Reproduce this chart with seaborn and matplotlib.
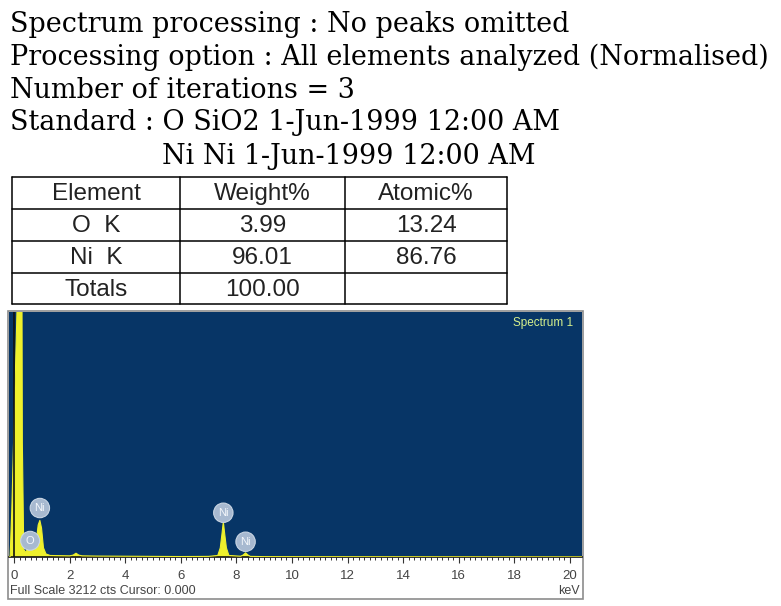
import matplotlib
matplotlib.use("Agg")
import matplotlib.pyplot as plt
import seaborn as sns
import numpy as np
from matplotlib.patches import Rectangle

# ---------------- data ----------------
header_lines = [
    "Spectrum processing : No peaks omitted",
    "Processing option : All elements analyzed (Normalised)",
    "Number of iterations = 3",
    "Standard : O SiO2 1-Jun-1999 12:00 AM",
    "Ni Ni 1-Jun-1999 12:00 AM",
]
table_columns = ["Element", "Weight%", "Atomic%"]
table_elements = ["O  K", "Ni  K", "Totals"]
weight_pct = ["3.99", "96.01", "100.00"]
atomic_pct = ["13.24", "86.76", ""]

energy_kev = [-0.20, -0.14, -0.08, 0.02, 0.12, 0.17, 0.25, 0.30, 0.35, 0.42,
              0.50, 0.57, 0.64, 0.72, 0.80, 0.87, 0.93, 0.99, 1.06, 1.15,
              1.30, 2.00, 2.13, 2.23, 2.33, 2.45, 3.00, 4.00, 5.00, 6.00,
              7.00, 7.33, 7.42, 7.48, 7.53, 7.58, 7.64, 7.73, 8.15, 8.24,
              8.33, 8.42, 8.50, 9.00, 12.0, 16.0, 20.5]
counts = [0, 0, 600, 2000, 3400, 9000, 9000, 1500, 100, 60,
          110, 150, 110, 80, 200, 420, 480, 380, 120, 40,
          20, 15, 25, 50, 25, 15, 12, 10, 8, 6,
          8, 20, 120, 300, 462, 300, 120, 20, 10, 25,
          55, 25, 8, 5, 4, 3, 2]

label_text = ["O", "Ni", "Ni", "Ni"]
label_kev = [0.58, 0.93, 7.53, 8.33]
label_cts = [213, 642, 580, 200]

full_scale = 3212
x_ticks = [0, 2, 4, 6, 8, 10, 12, 14, 16, 18, 20]

# ---------------- figure ----------------
W, H = 781, 606
sns.set_theme(style="white")
plt.rcParams["font.family"] = ["Liberation Sans", "DejaVu Sans"]
fig = plt.figure(figsize=(W / 100, H / 100), dpi=100)

def fx(px):
    return px / W

def fy(py):
    return 1 - py / H

# header text (serif), sized to the reference width
hdr_family = ["DejaVu Serif"]
renderer = fig.canvas.get_renderer()
probe = fig.text(0, 0, header_lines[1], fontsize=20, family=hdr_family)
wpx = probe.get_window_extent(renderer=renderer).width
probe.remove()
hdr_size = 20 * 758 / wpx
line_y = [24, 57, 90, 123, 156]
line_x = [10, 10, 10, 10, 162]
for txt, yy, xx in zip(header_lines, line_y, line_x):
    fig.text(fx(xx), fy(yy), txt, fontsize=hdr_size, family=hdr_family,
             va="center", ha="left", color="black")

# table
tx0, tx1 = 12, 507
col_edges = [12, 180, 345, 507]
row_edges = [177, 209, 241, 273, 304]
tab_ax = fig.add_axes([0, 0, 1, 1], facecolor="none")
tab_ax.set_xlim(0, W)
tab_ax.set_ylim(H, 0)
tab_ax.axis("off")
for xe in col_edges:
    tab_ax.plot([xe, xe], [row_edges[0], row_edges[-1]], color="black", lw=1.1)
for ye in row_edges:
    tab_ax.plot([tx0, tx1], [ye, ye], color="black", lw=1.1)
rows = [table_columns] + [[e, w, a] for e, w, a in zip(table_elements, weight_pct, atomic_pct)]
for r, row in enumerate(rows):
    yc = (row_edges[r] + row_edges[r + 1]) / 2 + 1
    for c, val in enumerate(row):
        xc = (col_edges[c] + col_edges[c + 1]) / 2
        tab_ax.text(xc, yc, val, fontsize=17.5, ha="center", va="center", color="#222222")

# spectrum panel frame
tab_ax.add_patch(Rectangle((8, 311), 575, 288, fill=False, ec="#8c8c8c", lw=1.2))

# spectrum axes
ax_l, ax_r, ax_t, ax_b = 9, 582, 312, 557
ax = fig.add_axes([fx(ax_l), fy(ax_b), fx(ax_r - ax_l), (ax_b - ax_t) / H])
ax.set_facecolor("#073566")
x0px, pxkev = 14, 27.8
ax.set_xlim((ax_l - x0px) / pxkev, (ax_r - x0px) / pxkev)
ax.set_ylim(0, full_scale)

yellow = "#EEF02C"
ax.fill_between(energy_kev, counts, 0, color=yellow, lw=0, zorder=2)
sns.lineplot(x=energy_kev, y=counts, ax=ax, color=yellow, lw=0.8, zorder=3,
             sort=False, estimator=None)
ax.axvline(0, color="#111111", lw=1.2, zorder=4)

for lt, lk, lc in zip(label_text, label_kev, label_cts):
    ax.annotate(lt, xy=(lk, lc), ha="center", va="center", fontsize=8,
                color="#F4F7FB", zorder=6,
                bbox=dict(boxstyle="circle,pad=0.4", fc="#A7B9D0", ec="#C9D5E3", lw=0.8))

ax.text(0.985, 0.955, "Spectrum 1", transform=ax.transAxes, ha="right", va="center",
        fontsize=8.5, color="#D6F08C")

for s in ["top", "left", "right"]:
    ax.spines[s].set_visible(False)
ax.spines["bottom"].set_color("#111111")
ax.spines["bottom"].set_linewidth(1.2)
ax.set_yticks([])
ax.set_xticks(x_ticks)
ax.set_xticklabels([str(t) for t in x_ticks])
ax.set_xticks(np.arange(0, 20.01, 0.2), minor=True)
ax.tick_params(axis="x", which="major", direction="out", length=4.5, width=0.8,
               color="#333333", labelsize=9.5, labelcolor="#444444", pad=5, bottom=True)
ax.tick_params(axis="x", which="minor", direction="out", length=2.5, width=0.7,
               color="#333333", bottom=True)
ax.set_xlabel("")
ax.set_ylabel("")

fig.text(fx(10), fy(591), "Full Scale 3212 cts Cursor: 0.000", fontsize=9,
         color="#444444", ha="left", va="center")
fig.text(fx(580), fy(591), "keV", fontsize=9, color="#444444", ha="right", va="center")

fig.savefig("out.png", dpi=100, facecolor="white")
